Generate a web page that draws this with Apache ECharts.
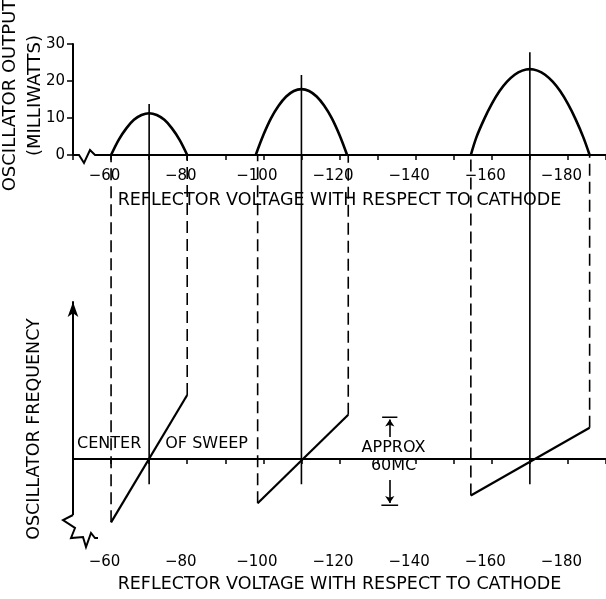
<!DOCTYPE html>
<html><head><meta charset="utf-8">
<script src="https://cdn.jsdelivr.net/npm/echarts@6/dist/echarts.min.js"></script>
<style>html,body{margin:0;padding:0;background:#fff}#c{width:606px;height:599px}</style>
</head><body><div id="c"></div>
<script>
// ---------- Upper chart: oscillator output (milliwatts) vs reflector voltage (V) ----------
const mode1Output = [[-60,0],[-62,4.1],[-64,7.2],[-66,9.5],[-68,10.8],[-70,11.3],[-72,10.8],[-74,9.5],[-76,7.2],[-78,4.1],[-80,0]];
const mode2Output = [[-98,0],[-100,5.4],[-102,9.9],[-104,13.3],[-106,15.8],[-108,17.3],[-110,17.8],[-112,17.3],[-114,15.8],[-116,13.3],[-118,9.9],[-120,5.4],[-122,0]];
const mode3Output = [[-154.5,0],[-156,4.9],[-158,9.7],[-160,13.8],[-162,17.2],[-164,19.8],[-166,21.7],[-168,22.8],[-170,23.2],[-172,22.8],[-174,21.7],[-176,19.8],[-178,17.2],[-180,13.8],[-182,9.7],[-184,4.9],[-185.7,0]];
const modeCenters = [-70, -110, -170];
const centerLineTops = [13.8, 21.6, 27.8];

// ---------- Lower chart: oscillator frequency (MC, relative to centre of sweep) ----------
const rampStartV = [-60, -98.5, -154.5];
const rampStartF = [-42.5, -29.7, -24.5];
const rampEndV = [-80, -122.3, -185.7];
const rampEndF = [43, 29.7, 21];
const centerLineBottom = -17;
const sweepLineLeft = [-50, -124.1];
const sweepLineRight = [-144.6, -187.6];
const bandV = -133.2, bandTop = 28, bandBottom = -31, bandArrowTop = 14.8, bandArrowBottom = -14;

// ---------- Axes ----------
const xTickLabelValues = [-60, -80, -100, -120, -140, -160, -180];
const yTickLabelValues = [0, 10, 20, 30];
const X_MIN = -190, X_MAX = -50, X_STEP = 10;
const Y_MIN = 0, Y_MAX = 30, Y_STEP = 10;
const F_MIN = -53, F_MAX = 105.4;

const texts = {
  upperY: 'OSCILLATOR OUTPUT\n(MILLIWATTS)',
  lowerY: 'OSCILLATOR FREQUENCY',
  xName: 'REFLECTOR VOLTAGE WITH RESPECT TO CATHODE',
  center: 'CENTER', sweep: 'OF SWEEP', approx: 'APPROX\n60MC'
};
const annotations = [
  {text: texts.center, v: -59.5, f: 10.1},
  {text: texts.sweep, v: -85.1, f: 10.1},
  {text: texts.approx, v: -134.2, f: 1.5}
];

// ---------- Layout ----------
const FONT = 'DejaVu Sans';
const L = 73, R = 0;
const G0 = {top: 44, h: 111};            // upper chart
const G1 = {top: 302, bottomY: 538};     // lower chart
const H = 599;
const lowerH = G1.bottomY - G1.top;
const ovTop = G0.top + G0.h;             // overlay spans upper baseline -> lower axis
const OV_TOP = F_MIN + (G1.bottomY - ovTop) * (F_MAX - F_MIN) / lowerH;

const chart = echarts.init(document.getElementById('c'), null, {renderer: 'canvas'});

function xAxisCfg(gridIndex, show, labelMargin, nameGap) {
  return {
    type: 'value', gridIndex, inverse: true, min: X_MIN, max: X_MAX, interval: X_STEP,
    show,
    name: show ? texts.xName : '', nameLocation: 'middle', nameGap, nameMoveOverlap: false,
    nameTextStyle: {fontFamily: FONT, fontSize: 17.5, color: '#000'},
    axisLine: {show: true, lineStyle: {color: '#000', width: 2}},
    axisTick: {show: true, length: 5, lineStyle: {color: '#000', width: 1.5}},
    axisLabel: {
      show: true, margin: labelMargin, fontFamily: FONT, fontSize: 15, color: '#000',
      padding: [0, 13, 0, 0],
      formatter: v => xTickLabelValues.includes(v) ? '\u2212' + Math.abs(v) : ''
    },
    splitLine: {show: false}
  };
}

const seriesList = [];
function line(xi, data, style, extra) {
  seriesList.push(Object.assign({
    type: 'line', xAxisIndex: xi, yAxisIndex: xi, data, symbol: 'none', silent: true,
    animation: false, lineStyle: Object.assign({color: '#000', width: 1.5}, style)
  }, extra || {}));
}

// upper curves
[mode1Output, mode2Output, mode3Output].forEach(d => line(0, d, {width: 2.6}, {smooth: 0.35, z: 5}));
// upper centre lines
modeCenters.forEach((c, i) => line(0, [[c, 0], [c, centerLineTops[i]]], {width: 1.6}));
// lower ramps
rampStartV.forEach((v, i) => line(1, [[v, rampStartF[i]], [rampEndV[i], rampEndF[i]]], {width: 2.2}, {z: 5}));
// centre of sweep line
line(1, [[sweepLineLeft[0], 0], [sweepLineLeft[1], 0]], {width: 1.6});
line(1, [[sweepLineRight[0], 0], [sweepLineRight[1], 0]], {width: 1.6});
// 60 MC bracket bars
line(1, [[bandV + 2, bandTop], [bandV - 2, bandTop]], {width: 1.6});
line(1, [[bandV + 2.2, bandBottom], [bandV - 2.2, bandBottom]], {width: 1.6});
seriesList.push({
  type: 'lines', coordinateSystem: 'cartesian2d', xAxisIndex: 1, yAxisIndex: 1, silent: true,
  symbol: ['none', 'arrow'], symbolSize: [0, 7], animation: false,
  lineStyle: {color: '#000', width: 1.6, opacity: 1},
  data: [
    {coords: [[bandV, bandArrowTop], [bandV, bandTop - 1.5]]},
    {coords: [[bandV, bandArrowBottom], [bandV, bandBottom + 1.5]]}
  ]
});
// dashed connectors (overlay grid)
rampStartV.forEach((v, i) => line(2, [[v, rampStartF[i]], [v, OV_TOP]], {type: [12, 6], width: 1.6}));
rampEndV.forEach((v, i) => line(2, [[v, rampEndF[i]], [v, OV_TOP]], {type: [12, 6], width: 1.6}));
// centre lines in lower part (overlay grid)
modeCenters.forEach(c => line(2, [[c, OV_TOP], [c, centerLineBottom]], {width: 1.6}));
// annotations
seriesList.push({
  type: 'scatter', xAxisIndex: 1, yAxisIndex: 1, silent: true, animation: false,
  symbolSize: 1, itemStyle: {opacity: 0},
  data: annotations.map(a => ({value: [a.v, a.f], name: a.text})),
  label: {show: true, position: 'inside', formatter: p => p.name, fontFamily: FONT, fontSize: 16,
          lineHeight: 18, color: '#000', opacity: 1}
});

chart.setOption({
  backgroundColor: '#fff',
  animation: false,
  grid: [
    {left: L, right: R, top: G0.top, height: G0.h, outerBoundsMode: 'none', containLabel: false},
    {left: L, right: R, top: G1.top, bottom: H - G1.bottomY, outerBoundsMode: 'none', containLabel: false},
    {left: L, right: R, top: ovTop, bottom: H - G1.bottomY, outerBoundsMode: 'none', containLabel: false}
  ],
  xAxis: [
    xAxisCfg(0, true, 14, 36),
    xAxisCfg(1, true, 17, 37),
    Object.assign(xAxisCfg(2, false, 0, 0), {show: false})
  ],
  yAxis: [
    {type: 'value', gridIndex: 0, min: Y_MIN, max: Y_MAX, interval: Y_STEP,
     name: texts.upperY, nameLocation: 'middle', nameRotate: 90, nameGap: 25, nameMoveOverlap: false,
     nameTextStyle: {fontFamily: FONT, fontSize: 18, lineHeight: 25, color: '#000', padding: [0, 0, 0, 8]},
     axisLine: {show: true, lineStyle: {color: '#000', width: 2}},
     axisTick: {show: true, length: 6, lineStyle: {color: '#000', width: 1.5}},
     axisLabel: {margin: 8, fontFamily: FONT, fontSize: 15, color: '#000',
                 formatter: v => yTickLabelValues.includes(v) ? String(v) : ''},
     splitLine: {show: false}},
    {type: 'value', gridIndex: 1, min: F_MIN, max: F_MAX,
     name: texts.lowerY, nameLocation: 'middle', nameRotate: 90, nameGap: 30, nameMoveOverlap: false,
     nameTextStyle: {fontFamily: FONT, fontSize: 17.5, color: '#000', padding: [0, 18, 0, 0]},
     axisLine: {show: true, symbol: ['none', 'arrow'], symbolSize: [8, 15],
                lineStyle: {color: '#000', width: 2}},
     axisTick: {show: false}, axisLabel: {show: false}, splitLine: {show: false}},
    {type: 'value', gridIndex: 2, min: F_MIN, max: OV_TOP, show: false,
     axisLine: {show: false}, axisTick: {show: false}, axisLabel: {show: false}, splitLine: {show: false}}
  ],
  series: seriesList
});

// axis-break squiggles (decoration)
const c0 = chart.convertToPixel({gridIndex: 0}, [X_MAX, Y_MIN]);
const c1 = chart.convertToPixel({gridIndex: 1}, [X_MAX, F_MIN]);
const pts = (o, arr) => arr.map(p => [o[0] + p[0], o[1] + p[1]]);
chart.setOption({
  graphic: [
    {type: 'rect', z: 100, shape: {x: c0[0] + 2, y: c0[1] - 3, width: 20, height: 6}, style: {fill: '#fff'}},
    {type: 'polyline', z: 101, shape: {points: pts(c0, [[0, 0], [6, 0], [11, 8], [17, -5], [22, 0], [24, 0]])},
     style: {stroke: '#000', lineWidth: 2, fill: null}},
    {type: 'rect', z: 100, shape: {x: c1[0] - 3, y: c1[1] - 23, width: 6, height: 22}, style: {fill: '#fff'}},
    {type: 'rect', z: 100, shape: {x: c1[0] - 3, y: c1[1] - 3, width: 24, height: 6}, style: {fill: '#fff'}},
    {type: 'polyline', z: 101,
     shape: {points: pts(c1, [[0, -23], [-10, -18], [2, -10], [-2, 0], [10, -1], [13, 9], [18, -5], [22, 0], [25, 0]])},
     style: {stroke: '#000', lineWidth: 2, fill: null}}
  ]
});
</script></body></html>
